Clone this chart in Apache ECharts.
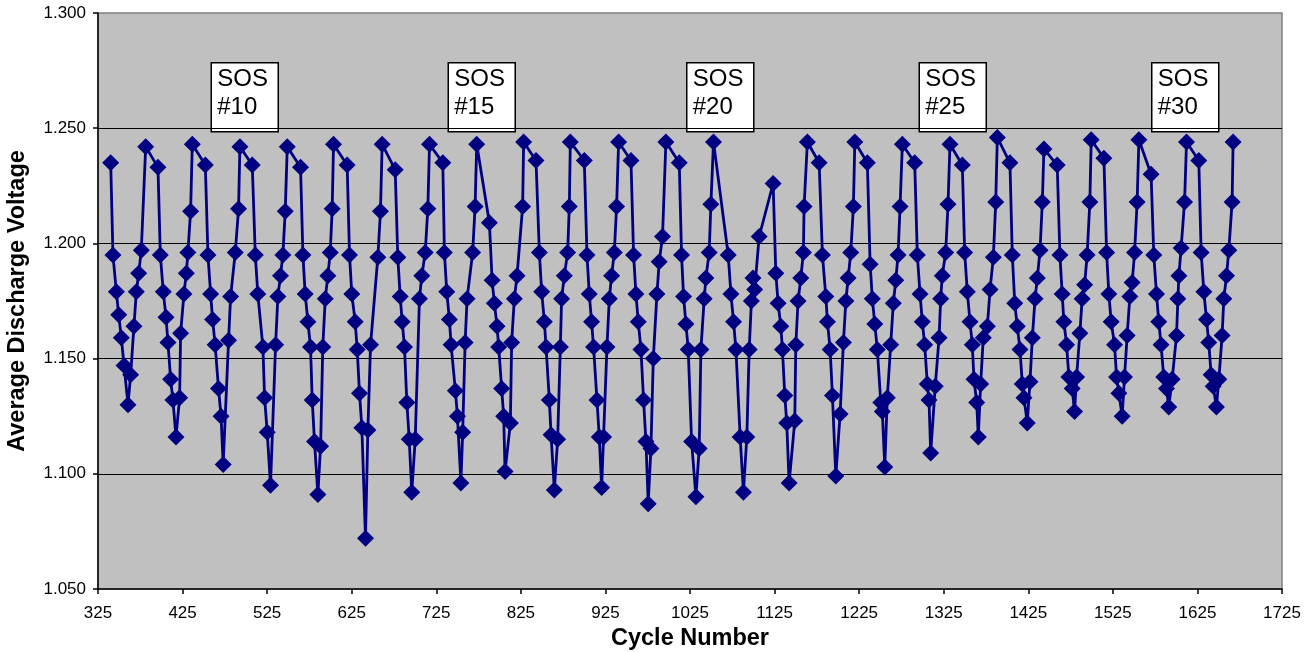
<!DOCTYPE html>
<html>
<head>
<meta charset="utf-8">
<script src="https://cdn.jsdelivr.net/npm/echarts@6/dist/echarts.min.js"></script>
<style>
html,body{margin:0;padding:0;background:#fff;}
#chart{width:1314px;height:652px;}
</style>
</head>
<body>
<div id="chart"></div>
<script>
// ---- data ----
const cycleNumber = [
340.0, 342.7, 346.7, 349.5, 352.6, 355.8, 360.5, 363.6, 367.5, 370.3, 373.1, 376.2, 381.4,
395.9, 398.7, 402.2, 405.4, 407.7, 410.9, 413.6, 417.2, 421.5, 422.7, 426.6, 429.4, 431.3, 434.5, 436.5,
451.9, 455.0, 458.2, 460.5, 463.5, 467.5, 470.5, 473.0, 479.4, 481.8, 487.3, 491.2, 492.8,
507.4, 511.0, 514.0, 520.0, 522.0, 525.1, 529.0, 535.0, 537.7, 540.8, 543.6, 546.4, 548.8,
564.5, 567.3, 570.0, 573.2, 576.3, 578.3, 581.0, 585.0, 588.2, 590.8, 593.7, 596.8, 599.6, 601.9, 603.5,
619.6, 622.4, 625.1, 629.1, 631.5, 634.2, 637.0, 641.3, 644.1, 647.3, 655.9, 659.0, 661.0,
676.4, 679.5, 682.3, 684.7, 687.4, 690.2, 693.0, 696.0, 700.1, 705.1, 707.9, 711.9, 715.0, 717.0,
732.7, 734.6, 737.4, 740.5, 742.5, 747.6, 750.0, 754.1, 756.2, 759.1, 761.4, 768.0, 770.9, 772.8,
787.8, 791.0, 793.7, 796.9, 798.8, 802.3, 804.7, 806.3, 812.6, 814.1, 817.3, 820.5, 827.1, 828.3,
842.9, 846.9, 849.6, 852.8, 854.8, 858.7, 860.7, 864.6, 868.5, 871.7, 873.2, 876.4, 880.3, 882.3, 883.5,
900.0, 903.2, 905.9, 908.6, 911.0, 915.0, 917.7, 920.5, 922.8, 926.8, 929.6, 932.3, 935.5, 938.2, 940.6,
955.2, 958.3, 961.1, 963.8, 967.0, 970.1, 972.9, 975.6, 978.8, 981.6, 985.9, 988.6, 992.5, 996.5,
1012.3, 1015.0, 1017.4, 1020.2, 1022.9, 1026.9, 1032.0, 1035.9, 1037.9, 1041.8, 1043.8, 1047.7, 1049.7, 1052.8,
1070.2, 1073.4, 1076.5, 1079.3, 1084.3, 1088.2, 1092.2, 1095.0, 1097.6, 1099.5, 1101.5, 1106.8,
1123.3, 1126.5, 1129.2, 1132.4, 1134.3, 1137.1, 1139.4, 1142.2, 1148.9, 1150.1, 1152.8, 1156.0, 1159.1, 1159.9, 1163.8,
1177.7, 1181.6, 1185.6, 1187.5, 1190.7, 1193.4, 1197.4, 1202.5, 1206.4, 1209.3, 1212.0, 1215.1, 1218.2, 1219.9,
1234.7, 1238.0, 1240.6, 1243.5, 1246.5, 1250.6, 1252.4, 1255.3, 1258.3, 1262.3, 1265.4, 1268.3, 1271.0, 1273.4, 1276.1,
1290.7, 1293.8, 1297.0, 1299.7, 1302.5, 1305.6, 1307.6, 1309.6, 1315.0, 1319.5, 1321.4, 1323.3, 1327.3, 1330.1, 1332.4,
1347.0, 1349.8, 1352.9, 1356.1, 1358.8, 1360.8, 1364.0, 1365.9, 1368.7, 1371.8, 1376.6, 1379.8, 1383.7, 1386.5, 1388.4,
1403.3, 1406.1, 1409.0, 1412.0, 1415.2, 1417.9, 1419.9, 1423.8, 1427.0, 1429.8, 1433.0, 1435.7, 1438.9, 1441.6, 1443.5,
1459.2, 1462.4, 1465.1, 1467.1, 1470.3, 1473.0, 1476.9, 1479.7, 1482.1, 1486.0, 1488.7, 1491.6, 1494.6, 1497.8, 1499.4,
1514.4, 1517.6, 1520.3, 1523.0, 1527.0, 1529.4, 1532.1, 1536.0, 1538.8, 1541.9, 1545.1, 1547.8, 1550.7, 1553.7, 1555.8,
1570.2, 1573.4, 1576.6, 1579.3, 1582.0, 1585.2, 1588.4, 1591.1, 1595.1, 1600.3, 1601.9, 1603.1, 1605.7, 1609.8, 1612.1,
1626.6, 1629.4, 1632.6, 1635.7, 1638.4, 1641.2, 1643.6, 1647.5, 1650.3, 1654.2, 1656.2, 1659.4, 1662.1, 1666.0, 1667.2
];

const avgDischargeVoltage = [
1.235, 1.195, 1.179, 1.169, 1.159, 1.147, 1.130, 1.143, 1.164, 1.179, 1.187, 1.197, 1.242,
1.233, 1.195, 1.179, 1.168, 1.157, 1.141, 1.132, 1.116, 1.133, 1.161, 1.178, 1.187, 1.196, 1.214, 1.243,
1.234, 1.195, 1.178, 1.167, 1.156, 1.137, 1.125, 1.104, 1.158, 1.177, 1.196, 1.215, 1.242,
1.234, 1.195, 1.178, 1.155, 1.133, 1.118, 1.095, 1.156, 1.177, 1.186, 1.195, 1.214, 1.242,
1.233, 1.195, 1.178, 1.166, 1.155, 1.132, 1.114, 1.091, 1.112, 1.155, 1.176, 1.186, 1.196, 1.215, 1.243,
1.234, 1.195, 1.178, 1.166, 1.154, 1.135, 1.120, 1.072, 1.119, 1.156, 1.194, 1.214, 1.243,
1.232, 1.194, 1.177, 1.166, 1.155, 1.131, 1.115, 1.092, 1.115, 1.176, 1.186, 1.196, 1.215, 1.243,
1.235, 1.196, 1.179, 1.167, 1.156, 1.136, 1.125, 1.096, 1.118, 1.157, 1.176, 1.196, 1.216, 1.243,
1.209, 1.184, 1.174, 1.164, 1.155, 1.137, 1.125, 1.101, 1.122, 1.157, 1.176, 1.186, 1.216, 1.244,
1.236, 1.196, 1.179, 1.166, 1.155, 1.132, 1.117, 1.093, 1.115, 1.155, 1.176, 1.186, 1.196, 1.216, 1.244,
1.236, 1.195, 1.178, 1.166, 1.155, 1.132, 1.116, 1.094, 1.116, 1.155, 1.176, 1.186, 1.196, 1.216, 1.244,
1.236, 1.195, 1.178, 1.166, 1.154, 1.132, 1.114, 1.087, 1.111, 1.150, 1.178, 1.192, 1.203, 1.244,
1.235, 1.195, 1.177, 1.165, 1.154, 1.114, 1.090, 1.111, 1.154, 1.176, 1.185, 1.196, 1.217, 1.244,
1.195, 1.178, 1.166, 1.154, 1.116, 1.092, 1.116, 1.154, 1.175, 1.185, 1.180, 1.203,
1.226, 1.187, 1.174, 1.164, 1.154, 1.134, 1.122, 1.096, 1.123, 1.156, 1.175, 1.185, 1.196, 1.216, 1.244,
1.235, 1.195, 1.177, 1.166, 1.154, 1.134, 1.099, 1.126, 1.157, 1.175, 1.185, 1.196, 1.216, 1.244,
1.235, 1.191, 1.176, 1.165, 1.154, 1.131, 1.127, 1.103, 1.133, 1.156, 1.174, 1.184, 1.195, 1.216, 1.243,
1.235, 1.195, 1.178, 1.166, 1.156, 1.139, 1.132, 1.109, 1.138, 1.159, 1.176, 1.186, 1.196, 1.217, 1.243,
1.234, 1.196, 1.179, 1.166, 1.156, 1.141, 1.131, 1.116, 1.139, 1.159, 1.164, 1.180, 1.194, 1.218, 1.246,
1.235, 1.195, 1.174, 1.164, 1.154, 1.139, 1.133, 1.122, 1.140, 1.159, 1.176, 1.185, 1.197, 1.218, 1.241,
1.234, 1.195, 1.178, 1.166, 1.156, 1.142, 1.137, 1.127, 1.142, 1.161, 1.176, 1.182, 1.195, 1.218, 1.245,
1.237, 1.196, 1.178, 1.166, 1.156, 1.142, 1.135, 1.125, 1.142, 1.160, 1.177, 1.183, 1.196, 1.218, 1.245,
1.230, 1.195, 1.178, 1.166, 1.156, 1.142, 1.137, 1.129, 1.141, 1.160, 1.176, 1.186, 1.198, 1.218, 1.244,
1.236, 1.196, 1.179, 1.167, 1.157, 1.143, 1.138, 1.129, 1.141, 1.160, 1.176, 1.186, 1.197, 1.218, 1.244
];

const sosLabels = ['SOS\n#10', 'SOS\n#15', 'SOS\n#20', 'SOS\n#25', 'SOS\n#30'];
const xTickStart = 325, xTickEnd = 1725, xTickStep = 100;
const yTickStart = 1.05, yTickEnd = 1.30, yTickStep = 0.05;

// ---- chart ----
const FONT = "'Liberation Sans', Arial, Helvetica, sans-serif";
const seriesData = cycleNumber.map((c, i) => [c, avgDischargeVoltage[i]]);

// annotation box pixel positions (layout only)
const boxLefts = [210.5, 447.5, 686, 918.5, 1151];
const boxTop = 62, boxW = 67, boxH = 69;

const graphics = [];
sosLabels.forEach((lab, i) => {
  graphics.push({
    type: 'group', left: boxLefts[i], top: boxTop, z: 100,
    children: [
      { type: 'rect', shape: { x: 0, y: 0, width: boxW, height: boxH },
        style: { fill: '#ffffff', stroke: '#000000', lineWidth: 1.5 } },
      { type: 'text', x: 6, y: 3,
        style: { text: lab, fill: '#000', font: "24px " + FONT, lineHeight: 28 } }
    ]
  });
});

const chart = echarts.init(document.getElementById('chart'), null, { renderer: 'canvas' });
chart.setOption({
  animation: false,
  backgroundColor: '#ffffff',
  grid: {
    left: 98, right: 32, top: 13, bottom: 63,
    containLabel: false, outerBoundsMode: 'none',
    show: true, backgroundColor: '#C0C0C0', borderColor: '#808080', borderWidth: 1.5
  },
  xAxis: {
    type: 'value', min: xTickStart, max: xTickEnd, interval: xTickStep,
    name: 'Cycle Number', nameLocation: 'middle', nameGap: 35,
    nameTextStyle: { fontFamily: FONT, fontWeight: 'bold', fontSize: 23.5, color: '#000' },
    axisLine: { show: true, lineStyle: { color: '#000', width: 1.5 } },
    axisTick: { show: true, length: 5, lineStyle: { color: '#000', width: 1.5 } },
    axisLabel: { color: '#000', fontFamily: FONT, fontSize: 17, margin: 16,
      formatter: v => String(Math.round(v)) },
    splitLine: { show: false }
  },
  yAxis: {
    type: 'value', min: yTickStart, max: yTickEnd, interval: yTickStep,
    name: 'Average Discharge Voltage', nameLocation: 'middle', nameGap: 68,
    nameTextStyle: { fontFamily: FONT, fontWeight: 'bold', fontSize: 23.5, color: '#000' },
    axisLine: { show: true, lineStyle: { color: '#000', width: 1.5 } },
    axisTick: { show: true, length: 5, lineStyle: { color: '#000', width: 1.5 } },
    axisLabel: { color: '#000', fontFamily: FONT, fontSize: 17, margin: 12,
      formatter: v => v.toFixed(3) },
    splitLine: { show: true, showMinLine: false, showMaxLine: false,
      lineStyle: { color: '#000', width: 1 } }
  },
  series: [{
    type: 'line',
    data: seriesData,
    showAllSymbol: true,
    symbol: 'diamond',
    symbolSize: 17,
    lineStyle: { color: '#000080', width: 2.8 },
    itemStyle: { color: '#000080' },
    clip: false
  }],
  graphic: graphics
});
</script>
</body>
</html>
